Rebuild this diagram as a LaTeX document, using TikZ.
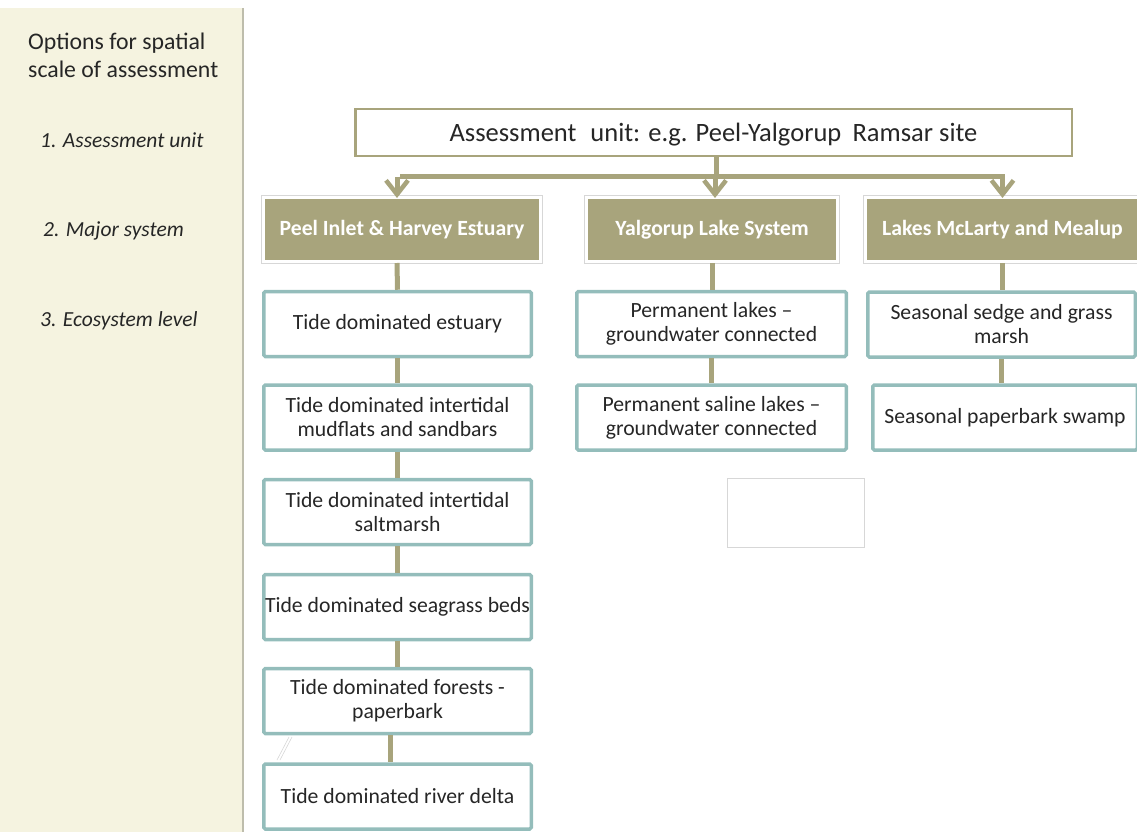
\documentclass[tikz,border=0pt]{standalone}
\usepackage{fontspec}
\setmainfont{Carlito}
\usetikzlibrary{arrows.meta,calc}
\definecolor{olive}{RGB}{168,164,124}
\definecolor{tealline}{RGB}{148,189,187}
\definecolor{panelfill}{RGB}{245,243,224}
\definecolor{panelrule}{RGB}{190,189,172}
\definecolor{ink}{RGB}{38,38,38}
\definecolor{framegray}{RGB}{215,215,215}
\begin{document}
\begin{tikzpicture}[x=1pt,y=-1pt,
  eco/.style={draw=tealline, line width=3.5pt, fill=white, rounded corners=1.5pt,
    minimum width=267.5pt, minimum height=65pt, inner sep=0pt, align=center,
    text=ink, font=\fontsize{21.7}{24}\selectfont},
  head/.style={fill=olive, draw=white, line width=3pt, minimum height=64pt,
    inner sep=0pt, text=white, font=\bfseries\fontsize{21.7}{24}\selectfont},
  headframe/.style={draw=framegray, line width=0.8pt},
  link/.style={draw=olive, line width=5pt},
  drop/.style={link, -{Straight Barb[length=14pt,width=22pt,line width=4.5pt]}},
  lvl/.style={anchor=west, inner sep=0pt, text=ink, font=\itshape\fontsize{21.5}{24}\selectfont}]
\useasboundingbox (0,0) rectangle (1137,832);

% side panel with the scale options
\fill[panelfill] (0,8) rectangle (243,832);
\draw[panelrule, line width=1.5pt] (243,8) -- (243,832);
\node[anchor=west, align=left, inner sep=0pt, text=ink, font=\fontsize{23.8}{28}\selectfont]
  (opts) at (28,55.5) {Options for spatial\\scale of assessment};
\node[lvl] (lv1) at (40,140.5) {1. Assessment unit};
\node[lvl] (lv2) at (43,230.5) {2. Major system};
\node[lvl] (lv3) at (40,320.5) {3. Ecosystem level};

% assessment unit
\node[draw=olive, line width=2.5pt, fill=white, minimum width=716.5pt,
  minimum height=46.5pt, inner sep=0pt, text depth=0pt, text=ink,
  font=\fontsize{26.5}{30}\selectfont]
  (unit) at (713.5,132.5) {Assessment\hspace{0.3em} unit: e.g. Peel-Yalgorup\hspace{0.2em} Ramsar site};

% major systems
\node[head, minimum width=277pt] (h1) at (402,229.5) {Peel Inlet \& Harvey Estuary};
\node[head, minimum width=251pt] (h2) at (712,229.5) {Yalgorup Lake System};
\node[head, minimum width=274pt] (h3) at (1002.5,229.5) {Lakes McLarty and Mealup};
\foreach \n in {h1,h2,h3}
  \draw[headframe] ([shift={(-0.4pt,0.4pt)}]\n.north west) rectangle ([shift={(0.4pt,-0.4pt)}]\n.south east);

% ecosystems: estuary column
\node[eco] (p1) at (397.5,324) {Tide dominated estuary};
\node[eco] (p2) at (397.5,417.5) {Tide dominated intertidal\\mudflats and sandbars};
\node[eco] (p3) at (397.5,512) {Tide dominated intertidal\\saltmarsh};
\node[eco] (p4) at (397.5,607) {Tide dominated seagrass beds};
\node[eco] (p5) at (397.5,701) {Tide dominated forests -\\paperbark};
\node[eco] (p6) at (397.5,796.5) {Tide dominated river delta};

% ecosystems: lake system column
\node[eco, minimum width=269.5pt] (y1) at (711.5,324) {Permanent lakes --\\groundwater connected};
\node[eco, minimum width=269.5pt] (y2) at (711.5,417.5) {Permanent saline lakes --\\groundwater connected};

% ecosystems: McLarty and Mealup column
\node[eco] (m1) at (1001.5,324.5) {Seasonal sedge and grass\\marsh};
\node[eco, minimum width=264.5pt] (m2) at (1005,417.5) {Seasonal paperbark swamp};

% empty placeholder box
\node[draw=framegray, line width=0.8pt, fill=white, minimum width=137pt,
  minimum height=69pt, inner sep=0pt] (blank) at (795.5,512.5) {};

% stray double stroke beside the delta box
\draw[framegray, line width=0.6pt] (289,737) -- (277,760);
\draw[framegray, line width=0.6pt] (292,737) -- (280,760);

% bus from the assessment unit to the major systems
\coordinate (bus) at ($(unit.south)+(2.5,19.5)$);
\draw[link] ($(unit.south)+(2.5,0)$) -- (bus);
\draw[link, line cap=rect] (bus -| h1.north) -- (bus -| h3.north);
\draw[drop] ([xshift=-5pt]bus -| h1.north) -- ([shift={(-5pt,-2pt)}]h1.north);
\draw[drop] ([xshift=3pt]bus -| h2.north) -- ([shift={(3pt,-2pt)}]h2.north);
\draw[drop] (bus -| h3.north) -- ([yshift=-2pt]h3.north);

% major systems to their ecosystems
\draw[link] ([xshift=-5pt]h1.south) -- (p1.north);
\draw[link] (h2.south) -- (y1.north -| h2.south);
\draw[link] (h3.south) -- (h3.south |- m1.north);

% within each column
\draw[link] (p1.south) -- (p2.north);
\draw[link] (p2.south) -- (p3.north);
\draw[link] (p3.south) -- (p4.north);
\draw[link] (p4.south) -- (p5.north);
\draw[link] ([xshift=-7pt]p5.south) -- ([xshift=-7pt]p6.north);
\draw[link] (y1.south) -- (y2.north);
\draw[link] (m1.south -| m1.south) -- (m2.north -| m1.south);
\end{tikzpicture}
\end{document}
